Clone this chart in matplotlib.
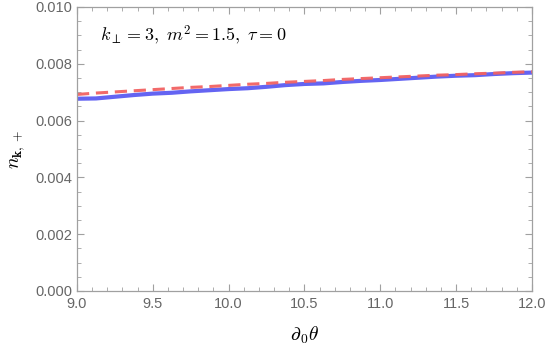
import numpy as np
import matplotlib
matplotlib.use("Agg")
import matplotlib.pyplot as plt
from matplotlib.ticker import MultipleLocator

plt.rcParams['font.family'] = ['Liberation Sans', 'DejaVu Sans']
plt.rcParams['mathtext.fontset'] = 'cm'

# numerical result (blue) and approximation (red dashed)
theta_dot = [9.0, 9.125, 9.25, 9.375, 9.5, 9.625, 9.75, 9.875, 10.0, 10.125, 10.25, 10.375,
             10.5, 10.625, 10.75, 10.875, 11.0, 11.125, 11.25, 11.375, 11.5, 11.625, 11.75, 11.875, 12.0]
n_num = [0.00677, 0.00678, 0.00684, 0.00690, 0.00695, 0.00698, 0.00703, 0.00707, 0.00711, 0.00714, 0.00719, 0.00725,
         0.00729, 0.00731, 0.00736, 0.00740, 0.00743, 0.00747, 0.00751, 0.00755, 0.00758, 0.00760, 0.00764, 0.00767, 0.00769]
n_approx = [0.00692, 0.00697, 0.00701, 0.00705, 0.00709, 0.00713, 0.00717, 0.00720, 0.00724, 0.00728, 0.00731, 0.00735,
            0.00738, 0.00741, 0.00745, 0.00748, 0.00751, 0.00754, 0.00757, 0.00760, 0.00762, 0.00765, 0.00767, 0.00770, 0.00772]

fig = plt.figure(figsize=(5.45, 3.5), dpi=100)
ax = fig.add_axes([0.1413, 0.1686, 0.8347, 0.8114])

ax.plot(theta_dot, n_num, color="#5c5cf2", lw=3.0, alpha=0.95)
ax.plot(theta_dot, n_approx, color="#f26262", lw=2.2, ls=(0, (4, 2.2)), alpha=0.95)

ax.set_xlim(9.0, 12.0)
ax.set_ylim(0.0, 0.010)
ax.xaxis.set_major_locator(MultipleLocator(0.5))
ax.xaxis.set_minor_locator(MultipleLocator(0.1))
ax.yaxis.set_major_locator(MultipleLocator(0.002))
ax.yaxis.set_minor_locator(MultipleLocator(0.0005))
ax.xaxis.set_major_formatter(plt.FuncFormatter(lambda v, p: "%.1f" % v))
ax.yaxis.set_major_formatter(plt.FuncFormatter(lambda v, p: "%.3f" % v))

for s in ax.spines.values():
    s.set_color("#a0a0a0")
    s.set_linewidth(0.9)
ax.tick_params(which="both", direction="in", top=True, right=True, color="#a0a0a0", labelcolor="#666666", labelsize=10.5)
ax.tick_params(which="major", length=5, width=0.8)
ax.tick_params(which="minor", length=2.8, width=0.6)
ax.tick_params(axis="x", pad=4)

ax.set_xlabel(r"$\partial_0\theta$", fontsize=14, labelpad=10)
ax.set_ylabel(r"$n_{\mathbf{k},+}$", fontsize=14, labelpad=6)

ax.text(0.05, 0.9, r"$k_\perp = 3,\ m^2 = 1.5,\ \tau = 0$", transform=ax.transAxes, fontsize=13, va="center")

plt.savefig("out.png", dpi=100)
